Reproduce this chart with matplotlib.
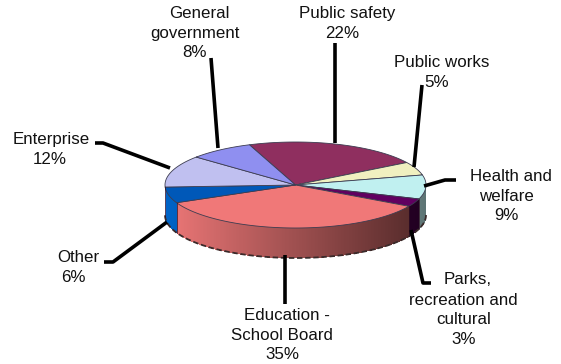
import matplotlib
matplotlib.use('Agg')
import matplotlib.pyplot as plt
import numpy as np
from matplotlib.collections import PolyCollection

plt.rcParams['font.family'] = ['Liberation Sans', 'DejaVu Sans']

# Budget shares, clockwise from the back of the pie
categories = ['Public safety', 'Public works', 'Health and welfare',
              'Parks, recreation and cultural', 'Education - School Board',
              'Other', 'Enterprise', 'General government']
shares = [22, 5, 9, 3, 35, 6, 12, 8]
top_colors = ['#8f2f5f', '#f0f0c0', '#c0f0f0', '#600060',
              '#f07878', '#0058b8', '#c0c0f0', '#8f8ff0']
side_colors = ['#993366', '#ffffcc', '#ccffff', '#660066',
               '#ff8080', '#0066cc', '#ccccff', '#9999ff']
side_gain = [1, 1, 1.45, 1, 1, 1.05, 1, 1]

# Pie geometry in pixels
cx, cy = 295.5, 185
rx, ry = 130.5, 43
depth = 30
start_deg = -20.7

# Label lines: text, centre x, centre y
label_lines = [
    [('Public safety', 347, 13.5), ('22%', 342, 33.5)],
    [('Public works', 442, 62.5), ('5%', 437, 82.5)],
    [('Health and', 511, 176.5), ('welfare', 506, 196.5), ('9%', 506, 215.5)],
    [('Parks,', 468, 279.5), ('recreation and', 463, 300.5), ('cultural', 464, 319.5), ('3%', 464, 339.5)],
    [('Education -', 287, 315.5), ('School Board', 282, 335.5), ('35%', 282, 354.5)],
    [('Other', 78, 257.5), ('6%', 73, 277.5)],
    [('Enterprise', 51, 139.5), ('12%', 50, 159.5)],
    [('General', 199, 13.5), ('government', 195, 33.5), ('8%', 195, 52.5)],
]

# Leader lines from each slice out to its label
leaders = [
    [(335, 43), (335, 143)],
    [(422, 85), (414, 167)],
    [(456, 180), (445, 180), (424, 186)],
    [(411, 230), (423, 283), (431, 283)],
    [(285, 255), (285, 304)],
    [(167, 222), (113, 262), (104, 262)],
    [(170, 168), (103, 143), (95, 143)],
    [(211, 58), (218, 148)],
]


def rim(t_deg):
    t = np.radians(t_deg)
    return cx + rx * np.sin(t), cy - ry * np.cos(t)


fig = plt.figure(figsize=(5.61, 3.64), dpi=100)
ax = fig.add_axes([0, 0, 1, 1])
ax.set_xlim(0, 561)
ax.set_ylim(364, 0)
ax.axis('off')

edges = start_deg + np.concatenate([[0], np.cumsum(shares)]) * 3.6

# Outer wall of the front half, shaded dark towards the right
quads, quad_colors = [], []
for i in range(len(shares)):
    lo, hi = max(edges[i], 90), min(edges[i + 1], 270)
    if lo >= hi:
        continue
    ts = np.arange(lo, hi + 0.5, 0.5)
    base = np.array(matplotlib.colors.to_rgb(side_colors[i]))
    for t0, t1 in zip(ts[:-1], ts[1:]):
        x0, y0 = rim(t0)
        x1, y1 = rim(t1)
        quads.append([(x0, y0), (x1, y1), (x1, y1 + depth), (x0, y0 + depth)])
        frac = (0.5 * (x0 + x1) - (cx - rx)) / (2 * rx)
        quad_colors.append(np.clip(base * (0.93 - 0.62 * frac) * side_gain[i], 0, 1))
ax.add_collection(PolyCollection(quads, facecolors=quad_colors, edgecolors='none',
                                 linewidths=0, antialiaseds=False))

# Dark lower rim of the wall
ts = np.arange(90, 270.5, 0.5)
bx, by = rim(ts)
ax.plot(bx, by + depth, color='#3a2a2a', lw=1.3, ls=(0, (3, 1.5)))

# Walls between neighbouring slices where they meet the front
for e in edges:
    if 90 <= e <= 270:
        x, y = rim(e)
        ax.plot([x, x], [y, y + depth], color='#301020', lw=0.5)

# Top face
for i in range(len(shares)):
    ts = np.linspace(edges[i], edges[i + 1], 80)
    x, y = rim(ts)
    ax.fill(np.r_[cx, x], np.r_[cy, y], facecolor=top_colors[i],
            edgecolor='#3c3c50', lw=0.6, joinstyle='round')

for pts in leaders:
    xs, ys = zip(*pts)
    ax.plot(xs, ys, color='black', lw=2.6, solid_capstyle='butt', solid_joinstyle='round')

for lines in label_lines:
    for text, x, y in lines:
        ax.text(x, y, text, fontsize=12.2, color='#111111', ha='center', va='center')

fig.savefig('out.png', dpi=100)
